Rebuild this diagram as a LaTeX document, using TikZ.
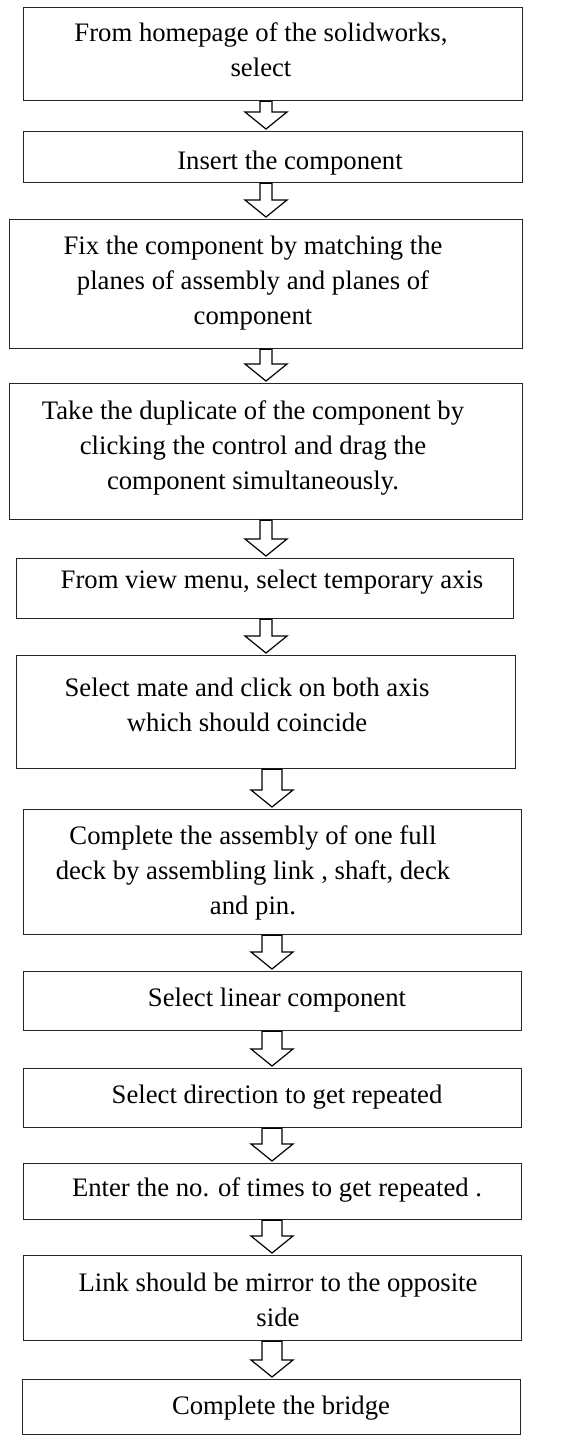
\documentclass[tikz,border=0pt]{standalone}
\usepackage{fontspec}
\setmainfont{Liberation Serif}
\usetikzlibrary{calc}
\tikzset{
  stepbox/.style={draw=black!85, line width=1.2pt, fill=none, inner sep=0pt},
  steptext/.style={align=center, inner sep=0pt, font=\fontsize{26.7}{35}\selectfont},
  fatarrow/.style={draw=black, fill=white, line width=1.2pt, line join=miter},
}
\newcommand\boxat[5]{% name, left, top, right, bottom
  \node[stepbox, anchor=north west, minimum width=#4pt-#2pt, minimum height=#5pt-#3pt] (#1) at (#2,#3) {};}
\newcommand\flowarrow[4]{% from, to, x centre, stem half width
  \path let \p1=(#1.south), \p2=(#2.north) in
    [fatarrow] (#3pt-#4pt,\y1) -- (#3pt-#4pt,\y2+19pt) -- (#3pt-21pt,\y2+19pt)
    -- (#3pt,\y2+2pt) -- (#3pt+21pt,\y2+19pt) -- (#3pt+#4pt,\y2+19pt)
    -- (#3pt+#4pt,\y1) -- cycle;}
\begin{document}
\begin{tikzpicture}[x=1pt,y=-1pt]
\useasboundingbox (0,0) rectangle (571,1436);
\boxat{b1}{23}{7}{522}{100}
\boxat{b2}{23}{131}{522}{182}
\boxat{b3}{9}{219}{522}{348}
\boxat{b4}{9}{383}{522}{519}
\boxat{b5}{16}{558}{513}{618}
\boxat{b6}{16}{655}{515}{768}
\boxat{b7}{23}{809}{521}{934}
\boxat{b8}{23}{971}{521}{1030}
\boxat{b9}{23}{1068}{521}{1127}
\boxat{b10}{23}{1163}{521}{1219}
\boxat{b11}{23}{1255}{521}{1340}
\boxat{b12}{22}{1379}{520}{1434}

\node[steptext] (t1) at (261,50) {From homepage of the solidworks,\\select};
\node[steptext] (t2) at (290,163) {Insert the component};
\node[steptext] (t3) at (253,283) {Fix the component by matching the\\planes of assembly and planes of\\component};
\node[steptext] (t4) at (253,448) {Take the duplicate of the component by\\clicking the control and drag the\\component simultaneously.};
\node[steptext] (t5) at (272,582) {From view menu, select temporary axis};
\node[steptext] (t6) at (247,705) {Select mate and click on both axis\\which should coincide};
\node[steptext] (t7) at (253,873) {Complete the assembly of one full\\deck by assembling link , shaft, deck\\and pin.};
\node[steptext] (t8) at (277,1000) {Select linear component};
\node[steptext] (t9) at (277,1097) {Select direction to get repeated};
\node[steptext] (t10) at (277,1190) {Enter the no. of times to get repeated .};
\node[steptext] (t11) at (278,1300) {Link should be mirror to the opposite\\side};
\node[steptext] (t12) at (281,1408) {Complete the bridge};

\flowarrow{b1}{b2}{266}{6}
\flowarrow{b2}{b3}{266}{6}
\flowarrow{b3}{b4}{266}{6}
\flowarrow{b4}{b5}{266}{6}
\flowarrow{b5}{b6}{266}{6}
\flowarrow{b6}{b7}{272}{10}
\flowarrow{b7}{b8}{272}{10}
\flowarrow{b8}{b9}{272}{10}
\flowarrow{b9}{b10}{272}{10}
\flowarrow{b10}{b11}{272}{10}
\flowarrow{b11}{b12}{272}{10}
\end{tikzpicture}
\end{document}
